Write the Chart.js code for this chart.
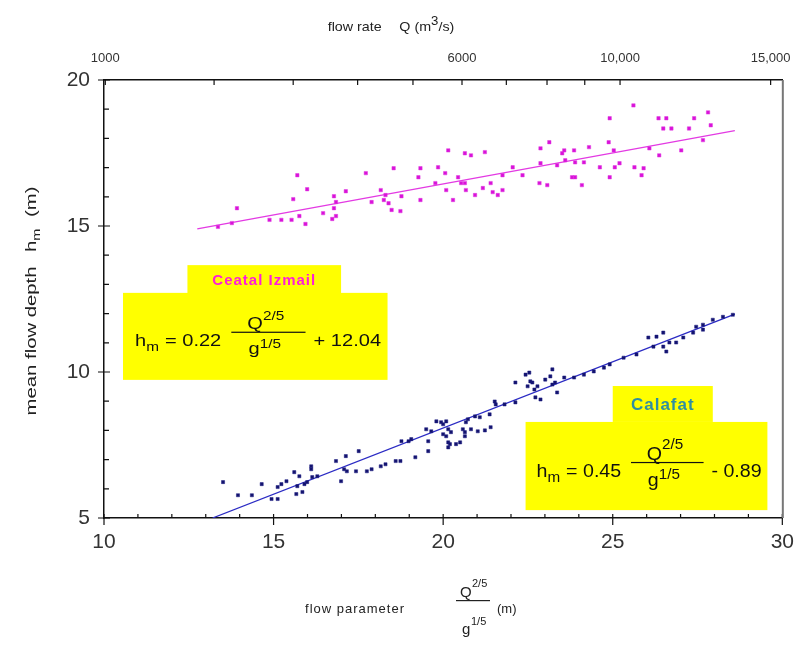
<!DOCTYPE html>
<html>
<head>
<meta charset="utf-8">
<script src="https://cdn.jsdelivr.net/npm/chart.js@4.4.1/dist/chart.umd.min.js"></script>
<style>
  html, body { margin: 0; padding: 0; background: #fff; }
  #wrap { width: 806px; height: 645px; position: relative; }
</style>
</head>
<body>
<div id="wrap"><canvas id="chart"></canvas></div>
<script>
// Ceatal Izmail measurements (flow parameter, mean flow depth)
var ceatalX = [13.36, 13.77, 13.92, 14.88, 15.23, 15.53, 15.76, 15.94, 15.70, 15.99,
  15.58, 16.46, 16.78, 16.84, 16.78, 16.84, 16.73, 17.13, 17.72, 17.89,
  18.16, 18.30, 18.25, 18.39, 18.54, 18.48, 18.74, 18.77, 19.33, 19.27,
  19.33, 19.85, 20.06, 19.77, 20.09, 20.29, 20.15, 20.44, 20.64, 20.64,
  20.82, 21.23, 20.53, 20.67, 20.94, 21.17, 21.40, 21.46, 21.61, 21.75,
  21.75, 22.05, 22.34, 22.84, 23.07, 22.87, 22.87, 23.13, 23.36, 23.51,
  23.57, 23.60, 23.86, 23.89, 24.15, 23.80, 23.89, 24.09, 24.30, 24.62,
  24.91, 24.88, 25.03, 25.06, 25.20, 24.91, 25.61, 25.64, 25.91, 25.85,
  26.08, 26.37, 26.35, 26.58, 26.49, 26.73, 27.02, 27.25, 27.40, 27.66,
  27.81, 27.89];
var ceatalY = [14.97, 15.10, 15.61, 15.21, 15.21, 15.21, 15.34, 15.07, 16.74, 16.26,
  15.92, 15.44, 16.02, 15.82, 15.61, 15.34, 15.24, 16.19, 16.81, 15.82,
  16.23, 16.06, 15.89, 15.78, 16.98, 15.55, 15.51, 16.02, 16.98, 16.67,
  15.89, 17.01, 16.81, 16.47, 16.23, 15.89, 17.59, 16.67, 16.47, 17.49,
  17.42, 17.53, 16.47, 16.23, 16.06, 16.30, 16.47, 16.16, 16.06, 16.23,
  16.74, 17.01, 16.74, 16.47, 16.40, 17.66, 17.15, 17.87, 17.08, 17.49,
  17.59, 17.25, 17.59, 17.18, 17.18, 16.67, 16.67, 16.40, 17.70, 17.01,
  18.69, 17.87, 17.59, 17.01, 17.15, 16.67, 19.13, 17.01, 16.98, 16.74,
  17.66, 17.42, 18.69, 18.69, 18.34, 18.34, 17.59, 18.34, 18.69, 17.94,
  18.89, 18.45];

// Calafat measurements
var calafatX = [13.51, 13.95, 14.36, 14.65, 14.94, 15.12, 15.12, 15.23, 15.38, 15.61,
  15.76, 15.67, 15.85, 15.70, 15.91, 15.99, 16.11, 16.11, 16.14, 16.29,
  16.84, 17.13, 16.99, 17.08, 17.16, 17.51, 17.43, 17.75, 17.89, 18.16,
  18.30, 18.60, 18.74, 19.18, 18.77, 18.98, 19.06, 19.50, 19.65, 19.56,
  19.56, 19.80, 20.00, 20.09, 20.00, 20.23, 20.15, 20.15, 20.50, 20.64,
  20.73, 20.94, 19.94, 20.15, 20.09, 20.20, 20.38, 20.58, 20.64, 20.82,
  21.02, 21.23, 21.40, 20.67, 21.08, 21.37, 21.52, 21.55, 21.81, 22.13,
  22.13, 22.43, 22.54, 22.49, 22.63, 22.69, 22.78, 22.72, 22.87, 22.57,
  23.01, 23.16, 23.22, 23.30, 23.36, 23.22, 23.57, 23.86, 24.15, 24.44,
  24.74, 24.91, 25.32, 25.70, 26.05, 26.29, 26.49, 26.20, 26.49, 26.58,
  26.67, 26.87, 27.08, 27.37, 27.66, 27.46, 27.66, 27.95, 28.25, 28.54];
var calafatY = [6.23, 5.78, 5.78, 6.16, 5.65, 5.65, 6.06, 6.16, 6.26, 6.57,
  6.43, 5.82, 5.89, 6.09, 6.16, 6.23, 6.77, 6.67, 6.40, 6.43,
  6.95, 7.12, 6.26, 6.67, 6.60, 7.29, 6.60, 6.60, 6.67, 6.77,
  6.84, 6.95, 6.95, 7.08, 7.63, 7.63, 7.70, 8.04, 7.97, 7.63,
  7.29, 8.31, 8.21, 8.31, 7.87, 7.94, 7.59, 7.42, 7.59, 7.94,
  8.38, 8.48, 8.28, 8.04, 7.80, 7.53, 7.53, 8.04, 7.80, 8.04,
  7.97, 8.00, 8.11, 8.28, 8.45, 8.55, 8.99, 8.89, 8.89, 8.96,
  9.64, 9.91, 9.98, 9.51, 9.64, 9.40, 9.51, 9.13, 9.06, 9.68,
  9.74, 9.85, 10.09, 9.64, 9.30, 9.57, 9.81, 9.81, 9.91, 10.02,
  10.15, 10.26, 10.49, 10.60, 11.18, 11.21, 11.35, 10.87, 10.87, 10.70,
  11.01, 11.01, 11.18, 11.35, 11.45, 11.55, 11.62, 11.79, 11.89, 11.96];

// fitted lines, end points
var ceatalFitX = [12.75, 28.6];
var ceatalFitY = [14.9, 18.27];
var calafatFitX = [13.2, 28.6];
var calafatFitY = [5.0, 11.98];

// axis ticks
var yTicksMajor = [5, 10, 15, 20];
var xTicksMajor = [10, 15, 20, 25, 30];
var qTicks = [1000, 2000, 3000, 4000, 5000, 6000, 7000, 8000, 9000, 10000, 15000];
var qTickLabels = ["1000", "", "", "", "", "6000", "", "", "", "10,000", "15,000"];

var FONT = "'Liberation Sans Narrow', 'Liberation Sans', Arial, sans-serif";

// flow parameter Q^(2/5) / g^(1/5)
function flowParam(q) {
  return Math.pow(q, 0.4) / Math.pow(9.81, 0.2);
}

function zip(xs, ys) {
  return xs.map(function (x, i) { return { x: x, y: ys[i] }; });
}

// text made of several runs, centred on (cx, cy)
function drawRuns(ctx, runs, cx, cy, angle, stretch) {
  ctx.save();
  ctx.translate(cx, cy);
  ctx.rotate(angle);
  ctx.scale(stretch, 1);
  var total = 0;
  runs.forEach(function (r) {
    ctx.font = r.font;
    r.w = ctx.measureText(r.text).width + (r.gap || 0);
    total += r.w;
  });
  var x = -total / 2;
  ctx.textBaseline = "alphabetic";
  ctx.textAlign = "left";
  runs.forEach(function (r) {
    ctx.font = r.font;
    ctx.fillStyle = r.color || "#222";
    ctx.fillText(r.text, x, r.dy || 0);
    x += r.w;
  });
  ctx.restore();
}

// h_m = coef * Q^(2/5)/g^(1/5) tail
function drawEquation(ctx, x0, y0, fs, stretch, coef, tail) {
  var big = fs + "px " + FONT, sm = Math.round(fs * 0.75) + "px " + FONT;
  ctx.save();
  ctx.translate(x0, y0);
  ctx.scale(stretch, 1);
  ctx.fillStyle = "#111";
  ctx.textAlign = "left";
  ctx.textBaseline = "alphabetic";
  var x = 0;
  ctx.font = big; ctx.fillText("h", x, 0); x += ctx.measureText("h").width;
  ctx.font = sm; ctx.fillText("m", x, fs * 0.3); x += ctx.measureText("m").width + fs * 0.3;
  ctx.font = big;
  var s = "= " + coef;
  ctx.fillText(s, x, 0); x += ctx.measureText(s).width + fs * 0.5;
  var barY = -fs * 0.8, barW = fs * 3.7;
  ctx.fillRect(x, barY - 0.6, barW, 1.2);
  var qx = x + fs * 0.8;
  ctx.font = big; ctx.fillText("Q", qx, barY - 3);
  var qw = ctx.measureText("Q").width;
  ctx.font = sm; ctx.fillText("2/5", qx + qw, barY - fs * 0.75);
  ctx.font = big; ctx.fillText("g", qx + 1, barY + fs * 1.3);
  var gw = ctx.measureText("g").width;
  ctx.font = sm; ctx.fillText("1/5", qx + gw + 1, barY + fs * 0.9);
  ctx.font = big; ctx.fillText(tail, x + barW + fs * 0.4, 0);
  ctx.restore();
}

// yellow boxes, in data units of the bottom/left axes
var boxes = [
  { x1: 12.46, y1: 13.66, x2: 16.99, y2: 12.67, label: "Ceatal Izmail", color: "#ff1fd6", size: 15 },
  { x1: 10.56, y1: 12.71, x2: 18.36, y2: 9.73 },
  { x1: 25.0, y1: 9.52, x2: 27.95, y2: 8.29, label: "Calafat", color: "#2f8fa0", size: 17 },
  { x1: 22.43, y1: 8.29, x2: 29.56, y2: 5.27 }
];

var decorPlugin = {
  id: "decor",
  beforeDraw: function (chart) {
    var ctx = chart.ctx;
    ctx.save();
    ctx.fillStyle = "#fff";
    ctx.fillRect(0, 0, chart.width, chart.height);
    ctx.restore();
  },
  afterDraw: function (chart) {
    var ctx = chart.ctx, a = chart.chartArea;
    var sx = chart.scales.x, sy = chart.scales.y, st = chart.scales.x2;

    // inward tick marks
    ctx.save();
    ctx.strokeStyle = "#111";
    ctx.lineWidth = 1.2;
    ctx.beginPath();
    sx.ticks.forEach(function (t) {
      var p = sx.getPixelForValue(t.value);
      if (xTicksMajor.indexOf(t.value) >= 0) {
        ctx.moveTo(p, a.bottom + 7); ctx.lineTo(p, a.bottom - 4);
      } else {
        ctx.moveTo(p, a.bottom); ctx.lineTo(p, a.bottom - 4);
      }
    });
    sy.ticks.forEach(function (t) {
      var p = sy.getPixelForValue(t.value);
      if (yTicksMajor.indexOf(t.value) >= 0) {
        ctx.moveTo(a.left - 6, p); ctx.lineTo(a.left + 6, p);
      } else {
        ctx.moveTo(a.left, p); ctx.lineTo(a.left + 5, p);
      }
    });
    st.ticks.forEach(function (t) {
      var p = st.getPixelForValue(t.value);
      ctx.moveTo(p, a.top); ctx.lineTo(p, a.top + 5);
    });
    ctx.stroke();
    ctx.beginPath();
    ctx.strokeStyle = "#777";
    ctx.lineWidth = 2;
    ctx.moveTo(a.right + 0.5, a.top);
    ctx.lineTo(a.right + 0.5, a.bottom);
    ctx.stroke();
    ctx.restore();

    // annotation boxes
    ctx.save();
    boxes.forEach(function (b) {
      var px1 = sx.getPixelForValue(b.x1), px2 = sx.getPixelForValue(b.x2);
      var py1 = sy.getPixelForValue(b.y1), py2 = sy.getPixelForValue(b.y2);
      ctx.fillStyle = "#ffff00";
      ctx.fillRect(px1, py1, px2 - px1, py2 - py1);
      if (b.label) {
        ctx.font = "bold " + b.size + "px " + FONT;
        ctx.fillStyle = b.color;
        ctx.textAlign = "center";
        ctx.textBaseline = "middle";
        ctx.letterSpacing = "1px";
        ctx.fillText(b.label, (px1 + px2) / 2, (py1 + py2) / 2 + 1);
        ctx.letterSpacing = "0px";
      }
    });
    ctx.restore();

    var b1 = boxes[1], b3 = boxes[3];
    drawEquation(ctx, sx.getPixelForValue(b1.x1) + 12, sy.getPixelForValue(b1.y1) + 53, 17, 1.18, "0.22", "+ 12.04");
    drawEquation(ctx, sx.getPixelForValue(b3.x1) + 11, sy.getPixelForValue(b3.y1) + 55, 18, 1.09, "0.45", "- 0.89");

    // axis titles
    var f13 = "13px " + FONT, f10 = "10px " + FONT;
    drawRuns(ctx, [
      { text: "flow rate", font: f13, gap: 16 },
      { text: "Q (m", font: f13 },
      { text: "3", font: "12px " + FONT, dy: -6 },
      { text: "/s)", font: f13 }
    ], 391, 31, 0, 1.1);

    drawRuns(ctx, [
      { text: "mean flow depth", font: "14px " + FONT, gap: 10 },
      { text: "h", font: "14px " + FONT },
      { text: "m", font: f10, dy: 4, gap: 8 },
      { text: "(m)", font: "14px " + FONT }
    ], 36, 301, -Math.PI / 2, 1.45);

    ctx.save();
    ctx.fillStyle = "#222";
    ctx.textBaseline = "alphabetic";
    ctx.textAlign = "right";
    ctx.font = "13px " + FONT;
    ctx.letterSpacing = "1px";
    ctx.fillText("flow parameter", 405, 613);
    ctx.letterSpacing = "0px";
    ctx.textAlign = "left";
    ctx.fillRect(456, 600, 34, 1.2);
    ctx.font = "15px " + FONT;
    ctx.fillText("Q", 460, 597);
    ctx.fillText("g", 462, 634);
    ctx.font = "11px " + FONT;
    ctx.fillText("2/5", 472, 587);
    ctx.fillText("1/5", 471, 625);
    ctx.font = "13px " + FONT;
    ctx.fillText("(m)", 497, 613);
    ctx.restore();
  }
};

var tickFont = { family: FONT, size: 21 };

new Chart(document.getElementById("chart"), {
  type: "scatter",
  data: {
    datasets: [
      {
        label: "Ceatal Izmail",
        data: zip(ceatalX, ceatalY),
        pointStyle: "rect",
        pointRadius: 2.4,
        backgroundColor: "#d912d9",
        borderColor: "#e03be0",
        borderWidth: 0.5
      },
      {
        label: "Calafat",
        data: zip(calafatX, calafatY),
        pointStyle: "rect",
        pointRadius: 2.2,
        backgroundColor: "#14146e",
        borderColor: "#1a1a80",
        borderWidth: 0.5
      },
      {
        label: "Ceatal Izmail fit",
        data: zip(ceatalFitX, ceatalFitY),
        showLine: true,
        pointRadius: 0,
        borderColor: "#e33ae3",
        borderWidth: 1.3
      },
      {
        label: "Calafat fit",
        data: zip(calafatFitX, calafatFitY),
        showLine: true,
        pointRadius: 0,
        borderColor: "#2b2bc4",
        borderWidth: 1.3
      }
    ]
  },
  options: {
    responsive: true,
    maintainAspectRatio: false,
    devicePixelRatio: 1,
    animation: false,
    layout: { padding: { left: 0, right: 18, top: 0, bottom: 0 } },
    plugins: {
      legend: { display: false },
      tooltip: { enabled: false }
    },
    scales: {
      x: {
        type: "linear",
        position: "bottom",
        min: 10,
        max: 30,
        grid: { display: false, drawTicks: false },
        border: { display: true, color: "#111", width: 1.5 },
        ticks: {
          stepSize: 1,
          autoSkip: false,
          maxRotation: 0,
          padding: 12,
          color: "#333",
          font: tickFont,
          callback: function (v) { return xTicksMajor.indexOf(v) >= 0 ? String(v) : ""; }
        },
        afterFit: function (s) { s.height = 127; }
      },
      x2: {
        type: "linear",
        position: "top",
        min: 10,
        max: 30,
        grid: { display: false, drawTicks: false },
        border: { display: true, color: "#111", width: 1.5 },
        afterBuildTicks: function (s) {
          s.ticks = qTicks.map(function (q) { return { value: flowParam(q) }; });
        },
        ticks: {
          autoSkip: false,
          maxRotation: 0,
          padding: 14,
          color: "#333",
          font: { family: FONT, size: 13 },
          callback: function (v, i) { return qTickLabels[i]; }
        },
        afterFit: function (s) { s.height = 80; }
      },
      y: {
        type: "linear",
        min: 5,
        max: 20,
        grid: { display: false, drawTicks: false },
        border: { display: true, color: "#111", width: 1.5 },
        ticks: {
          stepSize: 1,
          autoSkip: false,
          padding: 14,
          color: "#333",
          font: tickFont,
          callback: function (v) { return yTicksMajor.indexOf(v) >= 0 ? String(v) : ""; }
        },
        afterFit: function (s) { s.width = 104; }
      }
    }
  },
  plugins: [decorPlugin]
});
</script>
</body>
</html>
